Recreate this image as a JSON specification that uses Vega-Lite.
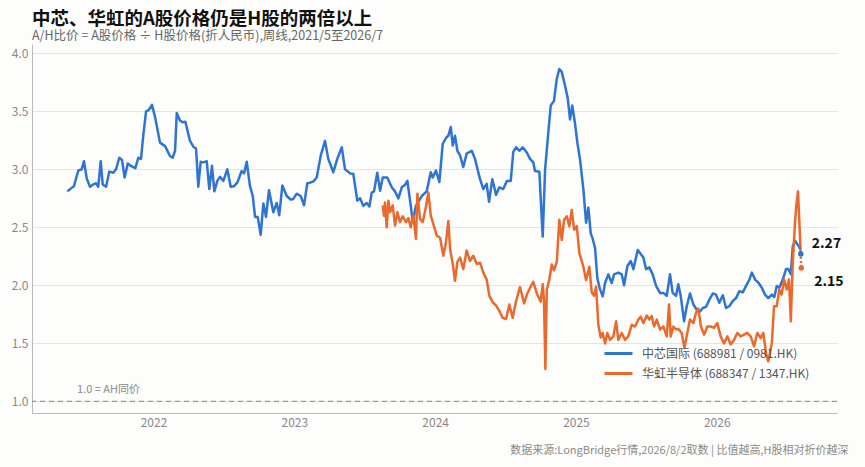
{
  "$schema": "https://vega.github.io/schema/vega-lite/v6.json",
  "autosize": {"type": "none"},
  "width": 805,
  "height": 369,
  "padding": {"left": 32, "top": 44, "right": 28, "bottom": 54},
  "background": "#fdfdfb",
  "config": {
    "font": "Noto Sans CJK SC",
    "view": {"stroke": null},
    "axis": {"domainColor": "#bbbbbb", "labelColor": "#888888", "labelFontSize": 12, "ticks": false, "gridColor": "#e4e4e4"}
  },
  "title": {
    "text": "中芯、华虹的A股价格仍是H股的两倍以上",
    "subtitle": "A/H比价 = A股价格 ÷ H股价格(折人民币),周线,2021/5至2026/7",
    "anchor": "start",
    "frame": "group",
    "fontSize": 18.5,
    "fontWeight": "bold",
    "color": "#111111",
    "subtitleFontSize": 12.5,
    "subtitleColor": "#666666",
    "subtitlePadding": 1,
    "offset": 2
  },
  "datasets": {
    "series": [
      {"t": 2021.388, "v": 2.81, "s": "中芯国际 (688981 / 0981.HK)"},
      {"t": 2021.419, "v": 2.84, "s": "中芯国际 (688981 / 0981.HK)"},
      {"t": 2021.435, "v": 2.855, "s": "中芯国际 (688981 / 0981.HK)"},
      {"t": 2021.466, "v": 2.99, "s": "中芯国际 (688981 / 0981.HK)"},
      {"t": 2021.49, "v": 3.0, "s": "中芯国际 (688981 / 0981.HK)"},
      {"t": 2021.506, "v": 3.07, "s": "中芯国际 (688981 / 0981.HK)"},
      {"t": 2021.526, "v": 2.92, "s": "中芯国际 (688981 / 0981.HK)"},
      {"t": 2021.549, "v": 2.85, "s": "中芯国际 (688981 / 0981.HK)"},
      {"t": 2021.572, "v": 2.87, "s": "中芯国际 (688981 / 0981.HK)"},
      {"t": 2021.592, "v": 2.88, "s": "中芯国际 (688981 / 0981.HK)"},
      {"t": 2021.608, "v": 2.85, "s": "中芯国际 (688981 / 0981.HK)"},
      {"t": 2021.625, "v": 3.07, "s": "中芯国际 (688981 / 0981.HK)"},
      {"t": 2021.639, "v": 2.87, "s": "中芯国际 (688981 / 0981.HK)"},
      {"t": 2021.663, "v": 2.85, "s": "中芯国际 (688981 / 0981.HK)"},
      {"t": 2021.686, "v": 2.98, "s": "中芯国际 (688981 / 0981.HK)"},
      {"t": 2021.714, "v": 2.97, "s": "中芯国际 (688981 / 0981.HK)"},
      {"t": 2021.734, "v": 3.0, "s": "中芯国际 (688981 / 0981.HK)"},
      {"t": 2021.757, "v": 3.1, "s": "中芯国际 (688981 / 0981.HK)"},
      {"t": 2021.776, "v": 3.08, "s": "中芯国际 (688981 / 0981.HK)"},
      {"t": 2021.795, "v": 2.93, "s": "中芯国际 (688981 / 0981.HK)"},
      {"t": 2021.817, "v": 3.05, "s": "中芯国际 (688981 / 0981.HK)"},
      {"t": 2021.838, "v": 3.03, "s": "中芯国际 (688981 / 0981.HK)"},
      {"t": 2021.871, "v": 3.01, "s": "中芯国际 (688981 / 0981.HK)"},
      {"t": 2021.892, "v": 3.1, "s": "中芯国际 (688981 / 0981.HK)"},
      {"t": 2021.911, "v": 3.09, "s": "中芯国际 (688981 / 0981.HK)"},
      {"t": 2021.928, "v": 3.3, "s": "中芯国际 (688981 / 0981.HK)"},
      {"t": 2021.947, "v": 3.5, "s": "中芯国际 (688981 / 0981.HK)"},
      {"t": 2021.966, "v": 3.51, "s": "中芯国际 (688981 / 0981.HK)"},
      {"t": 2021.989, "v": 3.555, "s": "中芯国际 (688981 / 0981.HK)"},
      {"t": 2022.011, "v": 3.45, "s": "中芯国际 (688981 / 0981.HK)"},
      {"t": 2022.046, "v": 3.23, "s": "中芯国际 (688981 / 0981.HK)"},
      {"t": 2022.082, "v": 3.2, "s": "中芯国际 (688981 / 0981.HK)"},
      {"t": 2022.117, "v": 3.115, "s": "中芯国际 (688981 / 0981.HK)"},
      {"t": 2022.136, "v": 3.1, "s": "中芯国际 (688981 / 0981.HK)"},
      {"t": 2022.153, "v": 3.16, "s": "中芯国际 (688981 / 0981.HK)"},
      {"t": 2022.165, "v": 3.485, "s": "中芯国际 (688981 / 0981.HK)"},
      {"t": 2022.188, "v": 3.42, "s": "中芯国际 (688981 / 0981.HK)"},
      {"t": 2022.207, "v": 3.405, "s": "中芯国际 (688981 / 0981.HK)"},
      {"t": 2022.226, "v": 3.41, "s": "中芯国际 (688981 / 0981.HK)"},
      {"t": 2022.259, "v": 3.245, "s": "中芯国际 (688981 / 0981.HK)"},
      {"t": 2022.283, "v": 3.195, "s": "中芯国际 (688981 / 0981.HK)"},
      {"t": 2022.302, "v": 3.18, "s": "中芯国际 (688981 / 0981.HK)"},
      {"t": 2022.318, "v": 2.85, "s": "中芯国际 (688981 / 0981.HK)"},
      {"t": 2022.335, "v": 3.065, "s": "中芯国际 (688981 / 0981.HK)"},
      {"t": 2022.354, "v": 3.06, "s": "中芯国际 (688981 / 0981.HK)"},
      {"t": 2022.378, "v": 3.07, "s": "中芯国际 (688981 / 0981.HK)"},
      {"t": 2022.396, "v": 2.83, "s": "中芯国际 (688981 / 0981.HK)"},
      {"t": 2022.415, "v": 3.03, "s": "中芯国际 (688981 / 0981.HK)"},
      {"t": 2022.432, "v": 2.81, "s": "中芯国际 (688981 / 0981.HK)"},
      {"t": 2022.453, "v": 2.9, "s": "中芯国际 (688981 / 0981.HK)"},
      {"t": 2022.472, "v": 2.935, "s": "中芯国际 (688981 / 0981.HK)"},
      {"t": 2022.496, "v": 2.9, "s": "中芯国际 (688981 / 0981.HK)"},
      {"t": 2022.524, "v": 3.0, "s": "中芯国际 (688981 / 0981.HK)"},
      {"t": 2022.548, "v": 2.85, "s": "中芯国际 (688981 / 0981.HK)"},
      {"t": 2022.572, "v": 2.855, "s": "中芯国际 (688981 / 0981.HK)"},
      {"t": 2022.595, "v": 2.885, "s": "中芯国际 (688981 / 0981.HK)"},
      {"t": 2022.626, "v": 2.985, "s": "中芯国际 (688981 / 0981.HK)"},
      {"t": 2022.643, "v": 2.965, "s": "中芯国际 (688981 / 0981.HK)"},
      {"t": 2022.662, "v": 3.065, "s": "中芯国际 (688981 / 0981.HK)"},
      {"t": 2022.685, "v": 2.855, "s": "中芯国际 (688981 / 0981.HK)"},
      {"t": 2022.705, "v": 2.77, "s": "中芯国际 (688981 / 0981.HK)"},
      {"t": 2022.721, "v": 2.59, "s": "中芯国际 (688981 / 0981.HK)"},
      {"t": 2022.74, "v": 2.59, "s": "中芯国际 (688981 / 0981.HK)"},
      {"t": 2022.761, "v": 2.435, "s": "中芯国际 (688981 / 0981.HK)"},
      {"t": 2022.78, "v": 2.705, "s": "中芯国际 (688981 / 0981.HK)"},
      {"t": 2022.799, "v": 2.59, "s": "中芯国际 (688981 / 0981.HK)"},
      {"t": 2022.82, "v": 2.82, "s": "中芯国际 (688981 / 0981.HK)"},
      {"t": 2022.851, "v": 2.63, "s": "中芯国际 (688981 / 0981.HK)"},
      {"t": 2022.875, "v": 2.71, "s": "中芯国际 (688981 / 0981.HK)"},
      {"t": 2022.893, "v": 2.605, "s": "中芯国际 (688981 / 0981.HK)"},
      {"t": 2022.915, "v": 2.86, "s": "中芯国际 (688981 / 0981.HK)"},
      {"t": 2022.946, "v": 2.77, "s": "中芯国际 (688981 / 0981.HK)"},
      {"t": 2022.974, "v": 2.74, "s": "中芯国际 (688981 / 0981.HK)"},
      {"t": 2022.993, "v": 2.745, "s": "中芯国际 (688981 / 0981.HK)"},
      {"t": 2023.017, "v": 2.79, "s": "中芯国际 (688981 / 0981.HK)"},
      {"t": 2023.045, "v": 2.77, "s": "中芯国际 (688981 / 0981.HK)"},
      {"t": 2023.069, "v": 2.69, "s": "中芯国际 (688981 / 0981.HK)"},
      {"t": 2023.092, "v": 2.88, "s": "中芯国际 (688981 / 0981.HK)"},
      {"t": 2023.111, "v": 2.885, "s": "中芯国际 (688981 / 0981.HK)"},
      {"t": 2023.135, "v": 2.895, "s": "中芯国际 (688981 / 0981.HK)"},
      {"t": 2023.159, "v": 2.93, "s": "中芯国际 (688981 / 0981.HK)"},
      {"t": 2023.188, "v": 3.12, "s": "中芯国际 (688981 / 0981.HK)"},
      {"t": 2023.218, "v": 3.245, "s": "中芯国际 (688981 / 0981.HK)"},
      {"t": 2023.241, "v": 3.09, "s": "中芯国际 (688981 / 0981.HK)"},
      {"t": 2023.277, "v": 2.975, "s": "中芯国际 (688981 / 0981.HK)"},
      {"t": 2023.305, "v": 3.09, "s": "中芯国际 (688981 / 0981.HK)"},
      {"t": 2023.337, "v": 3.19, "s": "中芯国际 (688981 / 0981.HK)"},
      {"t": 2023.36, "v": 3.0, "s": "中芯国际 (688981 / 0981.HK)"},
      {"t": 2023.396, "v": 2.965, "s": "中芯国际 (688981 / 0981.HK)"},
      {"t": 2023.419, "v": 2.96, "s": "中芯国际 (688981 / 0981.HK)"},
      {"t": 2023.447, "v": 2.73, "s": "中芯国际 (688981 / 0981.HK)"},
      {"t": 2023.467, "v": 2.75, "s": "中芯国际 (688981 / 0981.HK)"},
      {"t": 2023.49, "v": 2.685, "s": "中芯国际 (688981 / 0981.HK)"},
      {"t": 2023.514, "v": 2.71, "s": "中芯国际 (688981 / 0981.HK)"},
      {"t": 2023.533, "v": 2.68, "s": "中芯国际 (688981 / 0981.HK)"},
      {"t": 2023.55, "v": 2.8, "s": "中芯国际 (688981 / 0981.HK)"},
      {"t": 2023.566, "v": 2.81, "s": "中芯国际 (688981 / 0981.HK)"},
      {"t": 2023.589, "v": 2.97, "s": "中芯国际 (688981 / 0981.HK)"},
      {"t": 2023.609, "v": 2.815, "s": "中芯国际 (688981 / 0981.HK)"},
      {"t": 2023.628, "v": 2.93, "s": "中芯国际 (688981 / 0981.HK)"},
      {"t": 2023.66, "v": 2.93, "s": "中芯国际 (688981 / 0981.HK)"},
      {"t": 2023.692, "v": 2.845, "s": "中芯国际 (688981 / 0981.HK)"},
      {"t": 2023.715, "v": 2.81, "s": "中芯国际 (688981 / 0981.HK)"},
      {"t": 2023.739, "v": 2.75, "s": "中芯国际 (688981 / 0981.HK)"},
      {"t": 2023.763, "v": 2.845, "s": "中芯国际 (688981 / 0981.HK)"},
      {"t": 2023.786, "v": 2.865, "s": "中芯国际 (688981 / 0981.HK)"},
      {"t": 2023.803, "v": 2.9, "s": "中芯国际 (688981 / 0981.HK)"},
      {"t": 2023.827, "v": 2.685, "s": "中芯国际 (688981 / 0981.HK)"},
      {"t": 2023.841, "v": 2.55, "s": "中芯国际 (688981 / 0981.HK)"},
      {"t": 2023.864, "v": 2.685, "s": "中芯国际 (688981 / 0981.HK)"},
      {"t": 2023.905, "v": 2.77, "s": "中芯国际 (688981 / 0981.HK)"},
      {"t": 2023.94, "v": 2.81, "s": "中芯国际 (688981 / 0981.HK)"},
      {"t": 2023.969, "v": 2.975, "s": "中芯国际 (688981 / 0981.HK)"},
      {"t": 2023.983, "v": 2.93, "s": "中芯国际 (688981 / 0981.HK)"},
      {"t": 2024.006, "v": 2.99, "s": "中芯国际 (688981 / 0981.HK)"},
      {"t": 2024.03, "v": 2.89, "s": "中芯国际 (688981 / 0981.HK)"},
      {"t": 2024.054, "v": 3.22, "s": "中芯国际 (688981 / 0981.HK)"},
      {"t": 2024.077, "v": 3.27, "s": "中芯国际 (688981 / 0981.HK)"},
      {"t": 2024.094, "v": 3.29, "s": "中芯国际 (688981 / 0981.HK)"},
      {"t": 2024.111, "v": 3.365, "s": "中芯国际 (688981 / 0981.HK)"},
      {"t": 2024.125, "v": 3.205, "s": "中芯国际 (688981 / 0981.HK)"},
      {"t": 2024.141, "v": 3.29, "s": "中芯国际 (688981 / 0981.HK)"},
      {"t": 2024.158, "v": 3.16, "s": "中芯国际 (688981 / 0981.HK)"},
      {"t": 2024.177, "v": 3.12, "s": "中芯国际 (688981 / 0981.HK)"},
      {"t": 2024.2, "v": 3.02, "s": "中芯国际 (688981 / 0981.HK)"},
      {"t": 2024.224, "v": 3.135, "s": "中芯国际 (688981 / 0981.HK)"},
      {"t": 2024.26, "v": 3.16, "s": "中芯国际 (688981 / 0981.HK)"},
      {"t": 2024.283, "v": 3.09, "s": "中芯国际 (688981 / 0981.HK)"},
      {"t": 2024.319, "v": 2.915, "s": "中芯国际 (688981 / 0981.HK)"},
      {"t": 2024.342, "v": 2.83, "s": "中芯国际 (688981 / 0981.HK)"},
      {"t": 2024.366, "v": 2.875, "s": "中芯国际 (688981 / 0981.HK)"},
      {"t": 2024.383, "v": 2.72, "s": "中芯国际 (688981 / 0981.HK)"},
      {"t": 2024.406, "v": 2.915, "s": "中芯国际 (688981 / 0981.HK)"},
      {"t": 2024.433, "v": 2.78, "s": "中芯国际 (688981 / 0981.HK)"},
      {"t": 2024.456, "v": 2.845, "s": "中芯国际 (688981 / 0981.HK)"},
      {"t": 2024.484, "v": 2.83, "s": "中芯国际 (688981 / 0981.HK)"},
      {"t": 2024.509, "v": 2.9, "s": "中芯国际 (688981 / 0981.HK)"},
      {"t": 2024.537, "v": 2.9, "s": "中芯国际 (688981 / 0981.HK)"},
      {"t": 2024.555, "v": 3.15, "s": "中芯国际 (688981 / 0981.HK)"},
      {"t": 2024.575, "v": 3.19, "s": "中芯国际 (688981 / 0981.HK)"},
      {"t": 2024.598, "v": 3.16, "s": "中芯国际 (688981 / 0981.HK)"},
      {"t": 2024.622, "v": 3.19, "s": "中芯国际 (688981 / 0981.HK)"},
      {"t": 2024.651, "v": 3.145, "s": "中芯国际 (688981 / 0981.HK)"},
      {"t": 2024.674, "v": 3.09, "s": "中芯国际 (688981 / 0981.HK)"},
      {"t": 2024.697, "v": 3.06, "s": "中芯国际 (688981 / 0981.HK)"},
      {"t": 2024.709, "v": 2.985, "s": "中芯国际 (688981 / 0981.HK)"},
      {"t": 2024.74, "v": 2.98, "s": "中芯国际 (688981 / 0981.HK)"},
      {"t": 2024.764, "v": 2.42, "s": "中芯国际 (688981 / 0981.HK)"},
      {"t": 2024.781, "v": 3.0, "s": "中芯国际 (688981 / 0981.HK)"},
      {"t": 2024.804, "v": 3.32, "s": "中芯国际 (688981 / 0981.HK)"},
      {"t": 2024.821, "v": 3.55, "s": "中芯国际 (688981 / 0981.HK)"},
      {"t": 2024.844, "v": 3.59, "s": "中芯国际 (688981 / 0981.HK)"},
      {"t": 2024.864, "v": 3.78, "s": "中芯国际 (688981 / 0981.HK)"},
      {"t": 2024.882, "v": 3.865, "s": "中芯国际 (688981 / 0981.HK)"},
      {"t": 2024.899, "v": 3.84, "s": "中芯国际 (688981 / 0981.HK)"},
      {"t": 2024.923, "v": 3.72, "s": "中芯国际 (688981 / 0981.HK)"},
      {"t": 2024.942, "v": 3.61, "s": "中芯国际 (688981 / 0981.HK)"},
      {"t": 2024.958, "v": 3.43, "s": "中芯国际 (688981 / 0981.HK)"},
      {"t": 2024.974, "v": 3.55, "s": "中芯国际 (688981 / 0981.HK)"},
      {"t": 2024.994, "v": 3.39, "s": "中芯国际 (688981 / 0981.HK)"},
      {"t": 2025.01, "v": 3.23, "s": "中芯国际 (688981 / 0981.HK)"},
      {"t": 2025.029, "v": 3.085, "s": "中芯国际 (688981 / 0981.HK)"},
      {"t": 2025.053, "v": 2.825, "s": "中芯国际 (688981 / 0981.HK)"},
      {"t": 2025.072, "v": 2.54, "s": "中芯国际 (688981 / 0981.HK)"},
      {"t": 2025.088, "v": 2.67, "s": "中芯国际 (688981 / 0981.HK)"},
      {"t": 2025.105, "v": 2.45, "s": "中芯国际 (688981 / 0981.HK)"},
      {"t": 2025.119, "v": 2.4, "s": "中芯国际 (688981 / 0981.HK)"},
      {"t": 2025.136, "v": 2.32, "s": "中芯国际 (688981 / 0981.HK)"},
      {"t": 2025.152, "v": 2.06, "s": "中芯国际 (688981 / 0981.HK)"},
      {"t": 2025.171, "v": 1.965, "s": "中芯国际 (688981 / 0981.HK)"},
      {"t": 2025.19, "v": 1.905, "s": "中芯国际 (688981 / 0981.HK)"},
      {"t": 2025.207, "v": 2.02, "s": "中芯国际 (688981 / 0981.HK)"},
      {"t": 2025.23, "v": 2.095, "s": "中芯国际 (688981 / 0981.HK)"},
      {"t": 2025.254, "v": 2.02, "s": "中芯国际 (688981 / 0981.HK)"},
      {"t": 2025.271, "v": 2.095, "s": "中芯国际 (688981 / 0981.HK)"},
      {"t": 2025.301, "v": 2.11, "s": "中芯国际 (688981 / 0981.HK)"},
      {"t": 2025.325, "v": 2.095, "s": "中芯国际 (688981 / 0981.HK)"},
      {"t": 2025.342, "v": 2.0, "s": "中芯国际 (688981 / 0981.HK)"},
      {"t": 2025.365, "v": 2.165, "s": "中芯国际 (688981 / 0981.HK)"},
      {"t": 2025.389, "v": 2.21, "s": "中芯国际 (688981 / 0981.HK)"},
      {"t": 2025.408, "v": 2.14, "s": "中芯国际 (688981 / 0981.HK)"},
      {"t": 2025.439, "v": 2.305, "s": "中芯国际 (688981 / 0981.HK)"},
      {"t": 2025.46, "v": 2.27, "s": "中芯国际 (688981 / 0981.HK)"},
      {"t": 2025.479, "v": 2.24, "s": "中芯国际 (688981 / 0981.HK)"},
      {"t": 2025.498, "v": 2.14, "s": "中芯国际 (688981 / 0981.HK)"},
      {"t": 2025.521, "v": 2.155, "s": "中芯国际 (688981 / 0981.HK)"},
      {"t": 2025.545, "v": 2.095, "s": "中芯国际 (688981 / 0981.HK)"},
      {"t": 2025.569, "v": 1.995, "s": "中芯国际 (688981 / 0981.HK)"},
      {"t": 2025.597, "v": 1.935, "s": "中芯国际 (688981 / 0981.HK)"},
      {"t": 2025.621, "v": 1.935, "s": "中芯国际 (688981 / 0981.HK)"},
      {"t": 2025.645, "v": 1.91, "s": "中芯国际 (688981 / 0981.HK)"},
      {"t": 2025.668, "v": 2.095, "s": "中芯国际 (688981 / 0981.HK)"},
      {"t": 2025.687, "v": 1.935, "s": "中芯国际 (688981 / 0981.HK)"},
      {"t": 2025.711, "v": 1.91, "s": "中芯国际 (688981 / 0981.HK)"},
      {"t": 2025.727, "v": 2.01, "s": "中芯国际 (688981 / 0981.HK)"},
      {"t": 2025.744, "v": 1.91, "s": "中芯国际 (688981 / 0981.HK)"},
      {"t": 2025.768, "v": 1.69, "s": "中芯国际 (688981 / 0981.HK)"},
      {"t": 2025.787, "v": 1.82, "s": "中芯国际 (688981 / 0981.HK)"},
      {"t": 2025.81, "v": 1.93, "s": "中芯国际 (688981 / 0981.HK)"},
      {"t": 2025.834, "v": 1.835, "s": "中芯国际 (688981 / 0981.HK)"},
      {"t": 2025.858, "v": 1.79, "s": "中芯国际 (688981 / 0981.HK)"},
      {"t": 2025.881, "v": 1.775, "s": "中芯国际 (688981 / 0981.HK)"},
      {"t": 2025.901, "v": 1.805, "s": "中芯国际 (688981 / 0981.HK)"},
      {"t": 2025.924, "v": 1.815, "s": "中芯国际 (688981 / 0981.HK)"},
      {"t": 2025.947, "v": 1.875, "s": "中芯国际 (688981 / 0981.HK)"},
      {"t": 2025.972, "v": 1.93, "s": "中芯国际 (688981 / 0981.HK)"},
      {"t": 2025.995, "v": 1.92, "s": "中芯国际 (688981 / 0981.HK)"},
      {"t": 2026.018, "v": 1.85, "s": "中芯国际 (688981 / 0981.HK)"},
      {"t": 2026.043, "v": 1.915, "s": "中芯国际 (688981 / 0981.HK)"},
      {"t": 2026.066, "v": 1.805, "s": "中芯国际 (688981 / 0981.HK)"},
      {"t": 2026.089, "v": 1.82, "s": "中芯国际 (688981 / 0981.HK)"},
      {"t": 2026.114, "v": 1.865, "s": "中芯国际 (688981 / 0981.HK)"},
      {"t": 2026.137, "v": 1.89, "s": "中芯国际 (688981 / 0981.HK)"},
      {"t": 2026.161, "v": 1.95, "s": "中芯国际 (688981 / 0981.HK)"},
      {"t": 2026.185, "v": 1.94, "s": "中芯国际 (688981 / 0981.HK)"},
      {"t": 2026.208, "v": 1.995, "s": "中芯国际 (688981 / 0981.HK)"},
      {"t": 2026.232, "v": 2.05, "s": "中芯国际 (688981 / 0981.HK)"},
      {"t": 2026.249, "v": 2.11, "s": "中芯国际 (688981 / 0981.HK)"},
      {"t": 2026.272, "v": 2.05, "s": "中芯国际 (688981 / 0981.HK)"},
      {"t": 2026.295, "v": 2.025, "s": "中芯国际 (688981 / 0981.HK)"},
      {"t": 2026.32, "v": 1.98, "s": "中芯国际 (688981 / 0981.HK)"},
      {"t": 2026.343, "v": 1.92, "s": "中芯国际 (688981 / 0981.HK)"},
      {"t": 2026.366, "v": 1.89, "s": "中芯国际 (688981 / 0981.HK)"},
      {"t": 2026.391, "v": 1.92, "s": "中芯国际 (688981 / 0981.HK)"},
      {"t": 2026.409, "v": 1.9, "s": "中芯国际 (688981 / 0981.HK)"},
      {"t": 2026.426, "v": 1.995, "s": "中芯国际 (688981 / 0981.HK)"},
      {"t": 2026.444, "v": 1.98, "s": "中芯国际 (688981 / 0981.HK)"},
      {"t": 2026.469, "v": 2.05, "s": "中芯国际 (688981 / 0981.HK)"},
      {"t": 2026.492, "v": 2.14, "s": "中芯国际 (688981 / 0981.HK)"},
      {"t": 2026.509, "v": 2.14, "s": "中芯国际 (688981 / 0981.HK)"},
      {"t": 2026.526, "v": 2.095, "s": "中芯国际 (688981 / 0981.HK)"},
      {"t": 2026.54, "v": 2.34, "s": "中芯国际 (688981 / 0981.HK)"},
      {"t": 2026.556, "v": 2.385, "s": "中芯国际 (688981 / 0981.HK)"},
      {"t": 2026.572, "v": 2.355, "s": "中芯国际 (688981 / 0981.HK)"},
      {"t": 2026.587, "v": 2.33, "s": "中芯国际 (688981 / 0981.HK)"},
      {"t": 2023.628, "v": 2.69, "s": "华虹半导体 (688347 / 1347.HK)"},
      {"t": 2023.637, "v": 2.6, "s": "华虹半导体 (688347 / 1347.HK)"},
      {"t": 2023.644, "v": 2.715, "s": "华虹半导体 (688347 / 1347.HK)"},
      {"t": 2023.656, "v": 2.5, "s": "华虹半导体 (688347 / 1347.HK)"},
      {"t": 2023.668, "v": 2.73, "s": "华虹半导体 (688347 / 1347.HK)"},
      {"t": 2023.68, "v": 2.63, "s": "华虹半导体 (688347 / 1347.HK)"},
      {"t": 2023.699, "v": 2.69, "s": "华虹半导体 (688347 / 1347.HK)"},
      {"t": 2023.715, "v": 2.515, "s": "华虹半导体 (688347 / 1347.HK)"},
      {"t": 2023.732, "v": 2.63, "s": "华虹半导体 (688347 / 1347.HK)"},
      {"t": 2023.751, "v": 2.545, "s": "华虹半导体 (688347 / 1347.HK)"},
      {"t": 2023.77, "v": 2.595, "s": "华虹半导体 (688347 / 1347.HK)"},
      {"t": 2023.793, "v": 2.545, "s": "华虹半导体 (688347 / 1347.HK)"},
      {"t": 2023.81, "v": 2.58, "s": "华虹半导体 (688347 / 1347.HK)"},
      {"t": 2023.827, "v": 2.5, "s": "华虹半导体 (688347 / 1347.HK)"},
      {"t": 2023.845, "v": 2.605, "s": "华虹半导体 (688347 / 1347.HK)"},
      {"t": 2023.864, "v": 2.4, "s": "华虹半导体 (688347 / 1347.HK)"},
      {"t": 2023.874, "v": 2.79, "s": "华虹半导体 (688347 / 1347.HK)"},
      {"t": 2023.893, "v": 2.57, "s": "华虹半导体 (688347 / 1347.HK)"},
      {"t": 2023.912, "v": 2.545, "s": "华虹半导体 (688347 / 1347.HK)"},
      {"t": 2023.935, "v": 2.68, "s": "华虹半导体 (688347 / 1347.HK)"},
      {"t": 2023.952, "v": 2.8, "s": "华虹半导体 (688347 / 1347.HK)"},
      {"t": 2023.969, "v": 2.6, "s": "华虹半导体 (688347 / 1347.HK)"},
      {"t": 2023.983, "v": 2.545, "s": "华虹半导体 (688347 / 1347.HK)"},
      {"t": 2024.011, "v": 2.43, "s": "华虹半导体 (688347 / 1347.HK)"},
      {"t": 2024.035, "v": 2.41, "s": "华虹半导体 (688347 / 1347.HK)"},
      {"t": 2024.058, "v": 2.255, "s": "华虹半导体 (688347 / 1347.HK)"},
      {"t": 2024.077, "v": 2.37, "s": "华虹半导体 (688347 / 1347.HK)"},
      {"t": 2024.094, "v": 2.555, "s": "华虹半导体 (688347 / 1347.HK)"},
      {"t": 2024.106, "v": 2.315, "s": "华虹半导体 (688347 / 1347.HK)"},
      {"t": 2024.125, "v": 2.185, "s": "华虹半导体 (688347 / 1347.HK)"},
      {"t": 2024.141, "v": 2.04, "s": "华虹半导体 (688347 / 1347.HK)"},
      {"t": 2024.158, "v": 2.2, "s": "华虹半导体 (688347 / 1347.HK)"},
      {"t": 2024.177, "v": 2.24, "s": "华虹半导体 (688347 / 1347.HK)"},
      {"t": 2024.2, "v": 2.14, "s": "华虹半导体 (688347 / 1347.HK)"},
      {"t": 2024.224, "v": 2.3, "s": "华虹半导体 (688347 / 1347.HK)"},
      {"t": 2024.248, "v": 2.21, "s": "华虹半导体 (688347 / 1347.HK)"},
      {"t": 2024.271, "v": 2.255, "s": "华虹半导体 (688347 / 1347.HK)"},
      {"t": 2024.295, "v": 2.185, "s": "华虹半导体 (688347 / 1347.HK)"},
      {"t": 2024.319, "v": 2.195, "s": "华虹半导体 (688347 / 1347.HK)"},
      {"t": 2024.342, "v": 2.11, "s": "华虹半导体 (688347 / 1347.HK)"},
      {"t": 2024.366, "v": 2.05, "s": "华虹半导体 (688347 / 1347.HK)"},
      {"t": 2024.385, "v": 1.91, "s": "华虹半导体 (688347 / 1347.HK)"},
      {"t": 2024.409, "v": 1.855, "s": "华虹半导体 (688347 / 1347.HK)"},
      {"t": 2024.433, "v": 1.825, "s": "华虹半导体 (688347 / 1347.HK)"},
      {"t": 2024.456, "v": 1.78, "s": "华虹半导体 (688347 / 1347.HK)"},
      {"t": 2024.48, "v": 1.72, "s": "华虹半导体 (688347 / 1347.HK)"},
      {"t": 2024.504, "v": 1.71, "s": "华虹半导体 (688347 / 1347.HK)"},
      {"t": 2024.527, "v": 1.835, "s": "华虹半导体 (688347 / 1347.HK)"},
      {"t": 2024.551, "v": 1.72, "s": "华虹半导体 (688347 / 1347.HK)"},
      {"t": 2024.575, "v": 1.865, "s": "华虹半导体 (688347 / 1347.HK)"},
      {"t": 2024.603, "v": 1.985, "s": "华虹半导体 (688347 / 1347.HK)"},
      {"t": 2024.632, "v": 1.845, "s": "华虹半导体 (688347 / 1347.HK)"},
      {"t": 2024.655, "v": 1.93, "s": "华虹半导体 (688347 / 1347.HK)"},
      {"t": 2024.679, "v": 1.99, "s": "华虹半导体 (688347 / 1347.HK)"},
      {"t": 2024.697, "v": 2.03, "s": "华虹半导体 (688347 / 1347.HK)"},
      {"t": 2024.722, "v": 1.93, "s": "华虹半导体 (688347 / 1347.HK)"},
      {"t": 2024.75, "v": 1.86, "s": "华虹半导体 (688347 / 1347.HK)"},
      {"t": 2024.764, "v": 2.01, "s": "华虹半导体 (688347 / 1347.HK)"},
      {"t": 2024.773, "v": 1.87, "s": "华虹半导体 (688347 / 1347.HK)"},
      {"t": 2024.783, "v": 1.28, "s": "华虹半导体 (688347 / 1347.HK)"},
      {"t": 2024.793, "v": 1.96, "s": "华虹半导体 (688347 / 1347.HK)"},
      {"t": 2024.811, "v": 2.05, "s": "华虹半导体 (688347 / 1347.HK)"},
      {"t": 2024.828, "v": 2.18, "s": "华虹半导体 (688347 / 1347.HK)"},
      {"t": 2024.844, "v": 2.13, "s": "华虹半导体 (688347 / 1347.HK)"},
      {"t": 2024.864, "v": 2.205, "s": "华虹半导体 (688347 / 1347.HK)"},
      {"t": 2024.882, "v": 2.565, "s": "华虹半导体 (688347 / 1347.HK)"},
      {"t": 2024.899, "v": 2.39, "s": "华虹半导体 (688347 / 1347.HK)"},
      {"t": 2024.916, "v": 2.565, "s": "华虹半导体 (688347 / 1347.HK)"},
      {"t": 2024.935, "v": 2.595, "s": "华虹半导体 (688347 / 1347.HK)"},
      {"t": 2024.953, "v": 2.51, "s": "华虹半导体 (688347 / 1347.HK)"},
      {"t": 2024.97, "v": 2.65, "s": "华虹半导体 (688347 / 1347.HK)"},
      {"t": 2024.987, "v": 2.48, "s": "华虹半导体 (688347 / 1347.HK)"},
      {"t": 2025.006, "v": 2.51, "s": "华虹半导体 (688347 / 1347.HK)"},
      {"t": 2025.024, "v": 2.28, "s": "华虹半导体 (688347 / 1347.HK)"},
      {"t": 2025.053, "v": 2.16, "s": "华虹半导体 (688347 / 1347.HK)"},
      {"t": 2025.072, "v": 2.045, "s": "华虹半导体 (688347 / 1347.HK)"},
      {"t": 2025.095, "v": 2.16, "s": "华虹半导体 (688347 / 1347.HK)"},
      {"t": 2025.112, "v": 1.94, "s": "华虹半导体 (688347 / 1347.HK)"},
      {"t": 2025.129, "v": 1.91, "s": "华虹半导体 (688347 / 1347.HK)"},
      {"t": 2025.143, "v": 1.99, "s": "华虹半导体 (688347 / 1347.HK)"},
      {"t": 2025.159, "v": 1.66, "s": "华虹半导体 (688347 / 1347.HK)"},
      {"t": 2025.176, "v": 1.55, "s": "华虹半导体 (688347 / 1347.HK)"},
      {"t": 2025.19, "v": 1.59, "s": "华虹半导体 (688347 / 1347.HK)"},
      {"t": 2025.207, "v": 1.5, "s": "华虹半导体 (688347 / 1347.HK)"},
      {"t": 2025.223, "v": 1.59, "s": "华虹半导体 (688347 / 1347.HK)"},
      {"t": 2025.242, "v": 1.53, "s": "华虹半导体 (688347 / 1347.HK)"},
      {"t": 2025.266, "v": 1.56, "s": "华虹半导体 (688347 / 1347.HK)"},
      {"t": 2025.285, "v": 1.69, "s": "华虹半导体 (688347 / 1347.HK)"},
      {"t": 2025.301, "v": 1.53, "s": "华虹半导体 (688347 / 1347.HK)"},
      {"t": 2025.325, "v": 1.59, "s": "华虹半导体 (688347 / 1347.HK)"},
      {"t": 2025.349, "v": 1.53, "s": "华虹半导体 (688347 / 1347.HK)"},
      {"t": 2025.372, "v": 1.56, "s": "华虹半导体 (688347 / 1347.HK)"},
      {"t": 2025.396, "v": 1.66, "s": "华虹半导体 (688347 / 1347.HK)"},
      {"t": 2025.42, "v": 1.645, "s": "华虹半导体 (688347 / 1347.HK)"},
      {"t": 2025.443, "v": 1.705, "s": "华虹半导体 (688347 / 1347.HK)"},
      {"t": 2025.46, "v": 1.73, "s": "华虹半导体 (688347 / 1347.HK)"},
      {"t": 2025.479, "v": 1.675, "s": "华虹半导体 (688347 / 1347.HK)"},
      {"t": 2025.503, "v": 1.74, "s": "华虹半导体 (688347 / 1347.HK)"},
      {"t": 2025.521, "v": 1.705, "s": "华虹半导体 (688347 / 1347.HK)"},
      {"t": 2025.538, "v": 1.735, "s": "华虹半导体 (688347 / 1347.HK)"},
      {"t": 2025.555, "v": 1.645, "s": "华虹半导体 (688347 / 1347.HK)"},
      {"t": 2025.574, "v": 1.705, "s": "华虹半导体 (688347 / 1347.HK)"},
      {"t": 2025.597, "v": 1.62, "s": "华虹半导体 (688347 / 1347.HK)"},
      {"t": 2025.621, "v": 1.645, "s": "华虹半导体 (688347 / 1347.HK)"},
      {"t": 2025.645, "v": 1.56, "s": "华虹半导体 (688347 / 1347.HK)"},
      {"t": 2025.661, "v": 1.835, "s": "华虹半导体 (688347 / 1347.HK)"},
      {"t": 2025.673, "v": 1.56, "s": "华虹半导体 (688347 / 1347.HK)"},
      {"t": 2025.692, "v": 1.645, "s": "华虹半导体 (688347 / 1347.HK)"},
      {"t": 2025.711, "v": 1.62, "s": "华虹半导体 (688347 / 1347.HK)"},
      {"t": 2025.727, "v": 1.625, "s": "华虹半导体 (688347 / 1347.HK)"},
      {"t": 2025.751, "v": 1.59, "s": "华虹半导体 (688347 / 1347.HK)"},
      {"t": 2025.77, "v": 1.46, "s": "华虹半导体 (688347 / 1347.HK)"},
      {"t": 2025.791, "v": 1.59, "s": "华虹半导体 (688347 / 1347.HK)"},
      {"t": 2025.81, "v": 1.705, "s": "华虹半导体 (688347 / 1347.HK)"},
      {"t": 2025.834, "v": 1.675, "s": "华虹半导体 (688347 / 1347.HK)"},
      {"t": 2025.853, "v": 1.765, "s": "华虹半导体 (688347 / 1347.HK)"},
      {"t": 2025.869, "v": 1.8, "s": "华虹半导体 (688347 / 1347.HK)"},
      {"t": 2025.888, "v": 1.645, "s": "华虹半导体 (688347 / 1347.HK)"},
      {"t": 2025.91, "v": 1.575, "s": "华虹半导体 (688347 / 1347.HK)"},
      {"t": 2025.933, "v": 1.645, "s": "华虹半导体 (688347 / 1347.HK)"},
      {"t": 2025.957, "v": 1.645, "s": "华虹半导体 (688347 / 1347.HK)"},
      {"t": 2025.981, "v": 1.635, "s": "华虹半导体 (688347 / 1347.HK)"},
      {"t": 2026.004, "v": 1.675, "s": "华虹半导体 (688347 / 1347.HK)"},
      {"t": 2026.028, "v": 1.56, "s": "华虹半导体 (688347 / 1347.HK)"},
      {"t": 2026.052, "v": 1.5, "s": "华虹半导体 (688347 / 1347.HK)"},
      {"t": 2026.075, "v": 1.56, "s": "华虹半导体 (688347 / 1347.HK)"},
      {"t": 2026.099, "v": 1.49, "s": "华虹半导体 (688347 / 1347.HK)"},
      {"t": 2026.123, "v": 1.53, "s": "华虹半导体 (688347 / 1347.HK)"},
      {"t": 2026.146, "v": 1.59, "s": "华虹半导体 (688347 / 1347.HK)"},
      {"t": 2026.17, "v": 1.56, "s": "华虹半导体 (688347 / 1347.HK)"},
      {"t": 2026.194, "v": 1.575, "s": "华虹半导体 (688347 / 1347.HK)"},
      {"t": 2026.217, "v": 1.59, "s": "华虹半导体 (688347 / 1347.HK)"},
      {"t": 2026.241, "v": 1.56, "s": "华虹半导体 (688347 / 1347.HK)"},
      {"t": 2026.265, "v": 1.475, "s": "华虹半导体 (688347 / 1347.HK)"},
      {"t": 2026.288, "v": 1.59, "s": "华虹半导体 (688347 / 1347.HK)"},
      {"t": 2026.312, "v": 1.545, "s": "华虹半导体 (688347 / 1347.HK)"},
      {"t": 2026.331, "v": 1.59, "s": "华虹半导体 (688347 / 1347.HK)"},
      {"t": 2026.35, "v": 1.415, "s": "华虹半导体 (688347 / 1347.HK)"},
      {"t": 2026.366, "v": 1.345, "s": "华虹半导体 (688347 / 1347.HK)"},
      {"t": 2026.391, "v": 1.5, "s": "华虹半导体 (688347 / 1347.HK)"},
      {"t": 2026.407, "v": 1.82, "s": "华虹半导体 (688347 / 1347.HK)"},
      {"t": 2026.426, "v": 1.82, "s": "华虹半导体 (688347 / 1347.HK)"},
      {"t": 2026.444, "v": 1.965, "s": "华虹半导体 (688347 / 1347.HK)"},
      {"t": 2026.461, "v": 1.92, "s": "华虹半导体 (688347 / 1347.HK)"},
      {"t": 2026.478, "v": 2.05, "s": "华虹半导体 (688347 / 1347.HK)"},
      {"t": 2026.497, "v": 1.965, "s": "华虹半导体 (688347 / 1347.HK)"},
      {"t": 2026.513, "v": 2.05, "s": "华虹半导体 (688347 / 1347.HK)"},
      {"t": 2026.526, "v": 1.69, "s": "华虹半导体 (688347 / 1347.HK)"},
      {"t": 2026.54, "v": 2.195, "s": "华虹半导体 (688347 / 1347.HK)"},
      {"t": 2026.556, "v": 2.545, "s": "华虹半导体 (688347 / 1347.HK)"},
      {"t": 2026.565, "v": 2.69, "s": "华虹半导体 (688347 / 1347.HK)"},
      {"t": 2026.577, "v": 2.81, "s": "华虹半导体 (688347 / 1347.HK)"},
      {"t": 2026.589, "v": 2.485, "s": "华虹半导体 (688347 / 1347.HK)"},
      {"t": 2026.596, "v": 2.28, "s": "华虹半导体 (688347 / 1347.HK)"}
    ],
    "tail": [
      {"t": 2026.587, "v": 2.33, "s": "中芯国际 (688981 / 0981.HK)"},
      {"t": 2026.597, "v": 2.27, "s": "中芯国际 (688981 / 0981.HK)"},
      {"t": 2026.596, "v": 2.28, "s": "华虹半导体 (688347 / 1347.HK)"},
      {"t": 2026.6, "v": 2.15, "s": "华虹半导体 (688347 / 1347.HK)"}
    ],
    "latest": [
      {"t": 2026.597, "v": 2.27, "s": "中芯国际 (688981 / 0981.HK)", "label": "2.27"},
      {"t": 2026.6, "v": 2.15, "s": "华虹半导体 (688347 / 1347.HK)", "label": "2.15"}
    ],
    "parity": [
      {"t": 2021.457, "v": 1.0, "note": "1.0 = AH同价"}
    ]
  },
  "encoding": {
    "x": {
      "field": "t",
      "type": "quantitative",
      "scale": {"domain": [2021.137, 2026.854], "nice": false, "zero": false},
      "axis": {
        "title": "数据来源:LongBridge行情,2026/8/2取数 | 比值越高,H股相对折价越深",
        "titleFontSize": 11,
        "titleFontWeight": "normal",
        "titleColor": "#8a8a8a",
        "titleAnchor": "end",
        "titleAlign": "right",
        "titleX": 816,
        "titlePadding": 16,
        "values": [2022, 2023, 2024, 2025, 2026],
        "format": "d",
        "labelPadding": 4,
        "grid": false
      }
    },
    "y": {
      "field": "v",
      "type": "quantitative",
      "scale": {"domain": [0.9, 4.08], "nice": false, "zero": false},
      "axis": {"title": null, "values": [1, 1.5, 2, 2.5, 3, 3.5, 4], "format": ".1f", "labelPadding": 4, "grid": true}
    }
  },
  "layer": [
    {
      "data": {"name": "parity"},
      "mark": {"type": "rule", "color": "#999999", "strokeWidth": 1.2, "strokeDash": [5, 4]},
      "encoding": {"x": null}
    },
    {
      "data": {"name": "parity"},
      "mark": {"type": "text", "align": "left", "baseline": "middle", "dy": -11, "fontSize": 11, "color": "#8a8a8a"},
      "encoding": {"text": {"field": "note"}}
    },
    {
      "data": {"name": "series"},
      "mark": {"type": "line", "strokeWidth": 2.5, "strokeJoin": "round"},
      "encoding": {
        "color": {
          "field": "s",
          "type": "nominal",
          "scale": {"domain": ["中芯国际 (688981 / 0981.HK)", "华虹半导体 (688347 / 1347.HK)"], "range": ["#2e74d2", "#ea692d"]},
          "legend": {
            "title": null,
            "orient": "none",
            "legendX": 578,
            "legendY": 301,
            "padding": 0,
            "symbolType": "M-2,0H2",
            "symbolSize": 196,
            "symbolStrokeWidth": 3,
            "labelOffset": 15,
            "labelFontSize": 12,
            "labelColor": "#555555",
            "labelLimit": 300,
            "rowPadding": 5
          }
        }
      }
    },
    {
      "data": {"name": "tail"},
      "mark": {"type": "line", "strokeWidth": 2.5, "strokeDash": [2, 2]},
      "encoding": {"color": {"field": "s", "type": "nominal", "legend": null}}
    },
    {
      "data": {"name": "latest"},
      "mark": {"type": "circle", "size": 30, "opacity": 1},
      "encoding": {"color": {"field": "s", "type": "nominal", "legend": null}}
    },
    {
      "data": {"name": "latest"},
      "transform": [{"filter": "datum.label == '2.27'"}],
      "mark": {"type": "text", "align": "left", "baseline": "middle", "dx": 11, "dy": -10, "fontSize": 14, "fontWeight": "bold", "color": "#111111"},
      "encoding": {"text": {"field": "label"}}
    },
    {
      "data": {"name": "latest"},
      "transform": [{"filter": "datum.label == '2.15'"}],
      "mark": {"type": "text", "align": "left", "baseline": "middle", "dx": 13, "dy": 14, "fontSize": 14, "fontWeight": "bold", "color": "#111111"},
      "encoding": {"text": {"field": "label"}}
    }
  ]
}
